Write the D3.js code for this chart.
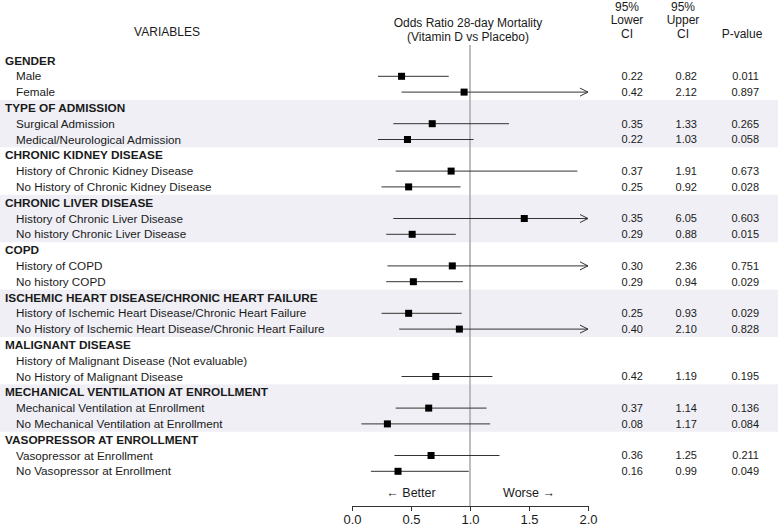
<!DOCTYPE html>
<html>
<head>
<meta charset="utf-8">
<script src="https://cdn.jsdelivr.net/npm/d3@7"></script>
<style>
  html, body { margin: 0; padding: 0; background: #fff; }
  svg { display: block; font-family: "Liberation Sans", Arial, sans-serif; }
</style>
</head>
<body>
<svg id="chart" width="778" height="526"></svg>
<script>
const rowLabels = [
  "GENDER", "Male", "Female",
  "TYPE OF ADMISSION", "Surgical Admission", "Medical/Neurological Admission",
  "CHRONIC KIDNEY DISEASE", "History of Chronic Kidney Disease", "No History of Chronic Kidney Disease",
  "CHRONIC LIVER DISEASE", "History of Chronic Liver Disease", "No history Chronic Liver Disease",
  "COPD", "History of COPD", "No history COPD",
  "ISCHEMIC HEART DISEASE/CHRONIC HEART FAILURE", "History of Ischemic Heart Disease/Chronic Heart Failure", "No History of Ischemic Heart Disease/Chronic Heart Failure",
  "MALIGNANT DISEASE", "History of Malignant Disease (Not evaluable)", "No History of Malignant Disease",
  "MECHANICAL VENTILATION AT ENROLLMENT", "Mechanical Ventilation at Enrollment", "No Mechanical Ventilation at Enrollment",
  "VASOPRESSOR AT ENROLLMENT", "Vasopressor at Enrollment", "No Vasopressor at Enrollment"
];
const headerRows = [0, 3, 6, 9, 12, 15, 18, 21, 24];
const oddsRatio = [null, 0.42, 0.95, null, 0.68, 0.47, null, 0.84, 0.48, null, 1.46, 0.51, null, 0.85, 0.52, null, 0.48, 0.91, null, null, 0.71, null, 0.65, 0.30, null, 0.67, 0.39];
const lowerCI   = [null, 0.22, 0.42, null, 0.35, 0.22, null, 0.37, 0.25, null, 0.35, 0.29, null, 0.30, 0.29, null, 0.25, 0.40, null, null, 0.42, null, 0.37, 0.08, null, 0.36, 0.16];
const upperCI   = [null, 0.82, 2.12, null, 1.33, 1.03, null, 1.91, 0.92, null, 6.05, 0.88, null, 2.36, 0.94, null, 0.93, 2.10, null, null, 1.19, null, 1.14, 1.17, null, 1.25, 0.99];
const pValues   = [null, "0.011", "0.897", null, "0.265", "0.058", null, "0.673", "0.028", null, "0.603", "0.015", null, "0.751", "0.029", null, "0.029", "0.828", null, null, "0.195", null, "0.136", "0.084", null, "0.211", "0.049"];
const xTicks = [0, 0.5, 1.0, 1.5, 2.0];
const xDomain = [0, 2];

const svg = d3.select("#chart");
const x = d3.scaleLinear().domain(xDomain).range([352, 588]);
const y = d3.scaleLinear().domain([0, rowLabels.length - 1]).range([60.5, 471.3]);
const pitch = y(1) - y(0);
const textColor = "#1a1a1a";

// shaded bands (alternate groups)
headerRows.forEach((h, gi) => {
  if (gi % 2 === 1) {
    svg.append("rect")
      .attr("x", 0).attr("width", 778)
      .attr("y", y(h) - pitch / 2)
      .attr("height", pitch * 3)
      .attr("fill", "#efeff5");
  }
});

// Column headers
svg.append("text").attr("x", 167).attr("y", 32).attr("dy", "0.35em")
  .attr("text-anchor", "middle").attr("font-size", 12).attr("fill", textColor).text("VARIABLES");
svg.append("text").attr("x", 468).attr("y", 23).attr("dy", "0.35em")
  .attr("text-anchor", "middle").attr("font-size", 12).attr("fill", textColor).text("Odds Ratio 28-day Mortality");
svg.append("text").attr("x", 468).attr("y", 36.5).attr("dy", "0.35em")
  .attr("text-anchor", "middle").attr("font-size", 12).attr("fill", textColor).text("(Vitamin D vs Placebo)");
[["95%", "Lower", "CI", 627], ["95%", "Upper", "CI", 683]].forEach(c => {
  [c[0], c[1], c[2]].forEach((t, i) => {
    svg.append("text").attr("x", c[3]).attr("y", 6.5 + i * 13.5).attr("dy", "0.35em")
      .attr("text-anchor", "middle").attr("font-size", 12).attr("fill", textColor).text(t);
  });
});
svg.append("text").attr("x", 742).attr("y", 33.5).attr("dy", "0.35em")
  .attr("text-anchor", "middle").attr("font-size", 12).attr("fill", textColor).text("P-value");

// Row labels
rowLabels.forEach((lab, i) => {
  const isH = headerRows.includes(i);
  svg.append("text")
    .attr("x", isH ? 5 : 16).attr("y", y(i)).attr("dy", "0.35em")
    .attr("font-size", isH ? 11.8 : 11.7).attr("font-weight", isH ? "bold" : "normal")
    .attr("fill", textColor).text(lab);
});

// reference line at 1
svg.append("line").attr("x1", x(1)).attr("x2", x(1)).attr("y1", 45).attr("y2", 506)
  .attr("stroke", "#a8a8a8").attr("stroke-width", 1.5);

// CI lines, arrows, markers
const idx = d3.range(rowLabels.length).filter(i => oddsRatio[i] != null);
const g = svg.append("g");
idx.forEach(i => {
  const lo = lowerCI[i], hi = Math.min(upperCI[i], xDomain[1]);
  g.append("line").attr("x1", x(lo)).attr("x2", x(hi)).attr("y1", y(i)).attr("y2", y(i))
    .attr("stroke", "#333").attr("stroke-width", 1);
  if (upperCI[i] > xDomain[1]) {
    const ax = x(xDomain[1]), ay = y(i);
    g.append("path").attr("d", `M${ax - 8},${ay - 4}L${ax},${ay}L${ax - 8},${ay + 4}`)
      .attr("fill", "none").attr("stroke", "#333").attr("stroke-width", 1);
  }
  g.append("rect").attr("x", x(oddsRatio[i]) - 3.5).attr("y", y(i) - 3.5)
    .attr("width", 7).attr("height", 7).attr("fill", "#000");
});

// numeric columns
idx.forEach(i => {
  svg.append("text").attr("x", 643).attr("y", y(i)).attr("dy", "0.35em").attr("text-anchor", "end")
    .attr("font-size", 11).attr("fill", textColor).text(lowerCI[i].toFixed(2));
  svg.append("text").attr("x", 697).attr("y", y(i)).attr("dy", "0.35em").attr("text-anchor", "end")
    .attr("font-size", 11).attr("fill", textColor).text(upperCI[i].toFixed(2));
  svg.append("text").attr("x", 759).attr("y", y(i)).attr("dy", "0.35em").attr("text-anchor", "end")
    .attr("font-size", 11).attr("fill", textColor).text(pValues[i]);
});

// Better / Worse
svg.append("text").attr("x", x(0.5)).attr("y", 493).attr("dy", "0.35em").attr("text-anchor", "middle")
  .attr("font-size", 12.5).attr("fill", textColor).text("\u2190 Better");
svg.append("text").attr("x", x(1.5)).attr("y", 493).attr("dy", "0.35em").attr("text-anchor", "middle")
  .attr("font-size", 12.5).attr("fill", textColor).text("Worse \u2192");

// x axis
const axis = svg.append("g").attr("transform", "translate(0,506)")
  .call(d3.axisBottom(x).tickValues(xTicks).tickFormat(d3.format(".1f")).tickSize(5).tickSizeOuter(0));
axis.select(".domain").attr("stroke", "#333");
axis.selectAll(".tick line").attr("stroke", "#333");
axis.selectAll(".tick text").attr("font-size", 13).attr("fill", textColor)
  .attr("font-family", "Liberation Sans, Arial, sans-serif").attr("y", 8.5).attr("dy", "0.71em");
</script>
</body>
</html>
